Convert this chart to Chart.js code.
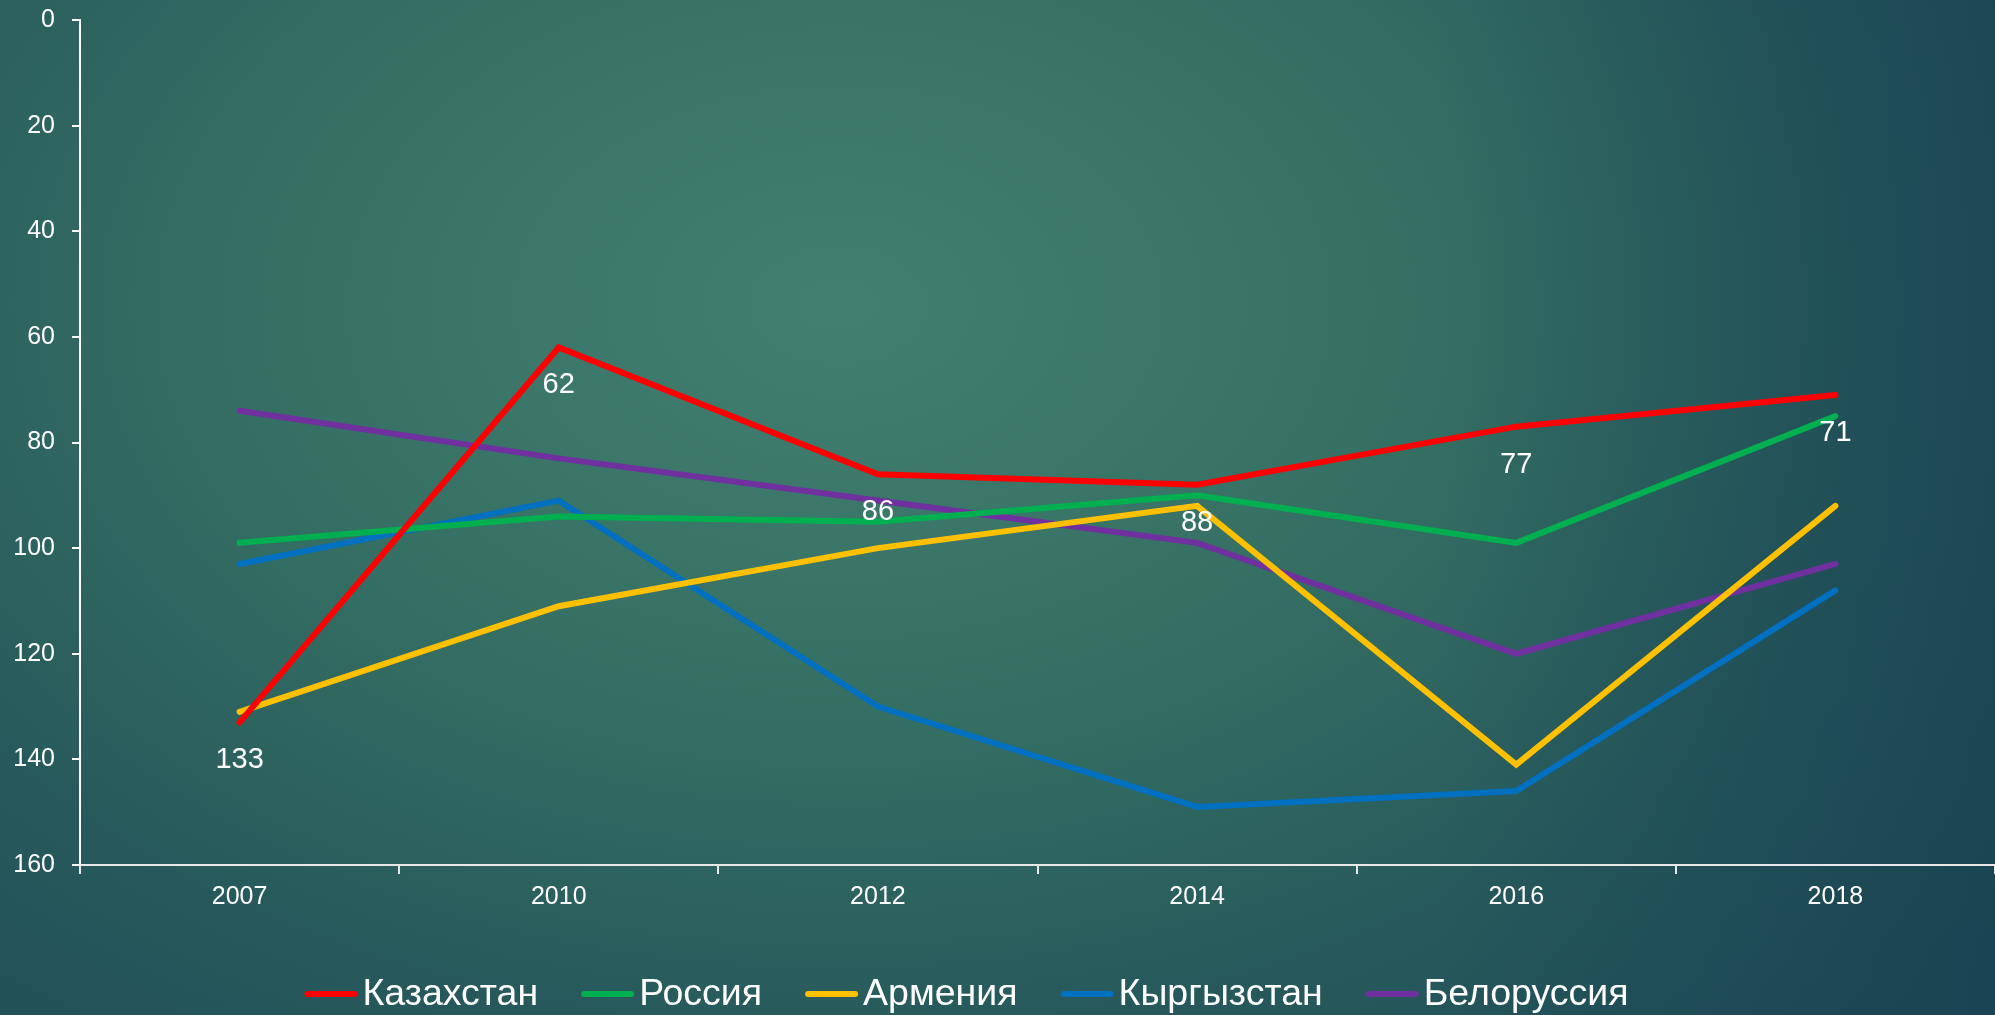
<!DOCTYPE html>
<html><head><meta charset="utf-8">
<script src="https://cdn.jsdelivr.net/npm/chart.js@4/dist/chart.umd.min.js"></script>
<style>
html,body{margin:0;padding:0;width:1995px;height:1015px;overflow:hidden;}
body{background:
  linear-gradient(to right, rgba(22,62,80,0) 72%, rgba(22,62,80,0.55) 100%),
  radial-gradient(ellipse 75% 100% at 42% 30%, #427f71 0%, #356f63 40%, #27595c 72%, #1f4c56 100%);}
#wrap{position:relative;width:1995px;height:1015px;}
</style></head><body>
<div id="wrap"><canvas id="c" width="1995" height="1015"></canvas></div>
<script>
const years = ['2007', '2010', '2012', '2014', '2016', '2018'];
const kazakhstan = [133, 62, 86, 88, 77, 71];
const russia     = [99, 94, 95, 90, 99, 75];
const armenia    = [131, 111, 100, 92, 141, 92];
const kyrgyzstan = [103, 91, 130, 149, 146, 108];
const belarus    = [74, 83, 91, 99, 120, 103];
const seriesNames = ['Казахстан', 'Россия', 'Армения', 'Кыргызстан', 'Белоруссия'];
const seriesColors = ['#FF0000', '#00B050', '#FFC000', '#0070C0', '#7030A0'];
const yMin = 0, yMax = 160, yStep = 20;

const FONT = '"Liberation Sans", Arial, sans-serif';
const seriesData = [kazakhstan, russia, armenia, kyrgyzstan, belarus];

const datasets = seriesData.map((d, i) => ({
  label: seriesNames[i],
  data: d,
  borderColor: seriesColors[i],
  backgroundColor: seriesColors[i],
  borderWidth: 6,
  pointRadius: 0,
  pointHoverRadius: 0,
  tension: 0,
  fill: false,
  borderCapStyle: 'round',
  borderJoinStyle: 'miter'
}));

const valueLabels = {
  id: 'valueLabels',
  afterDatasetsDraw(chart) {
    const ctx = chart.ctx;
    const meta = chart.getDatasetMeta(0);
    ctx.save();
    ctx.fillStyle = '#ffffff';
    ctx.font = '29px ' + FONT;
    ctx.textAlign = 'center';
    ctx.textBaseline = 'middle';
    meta.data.forEach((p, i) => {
      ctx.fillText(String(chart.data.datasets[0].data[i]), p.x, p.y + 38);
    });
    ctx.restore();
  }
};

const bottomLegend = {
  id: 'bottomLegend',
  afterDraw(chart) {
    const ctx = chart.ctx;
    ctx.save();
    ctx.font = '37.5px ' + FONT;
    const lineLen = 53, gapText = 5, gapItem = 43;
    const items = chart.data.datasets.map(ds => ({
      text: ds.label, color: ds.borderColor, w: ctx.measureText(ds.label).width
    }));
    let total = 0;
    items.forEach((it, i) => { total += lineLen + gapText + it.w + (i ? gapItem : 0); });
    let x = (chart.width - total) / 2 - 31;
    const y = 994;
    ctx.textBaseline = 'middle';
    ctx.textAlign = 'left';
    items.forEach(it => {
      ctx.strokeStyle = it.color;
      ctx.lineWidth = 6;
      ctx.lineCap = 'round';
      ctx.beginPath();
      ctx.moveTo(x + 3, y);
      ctx.lineTo(x + lineLen - 3, y);
      ctx.stroke();
      ctx.fillStyle = '#ffffff';
      ctx.fillText(it.text, x + lineLen + gapText, y + 1);
      x += lineLen + gapText + it.w + gapItem;
    });
    ctx.restore();
  }
};

new Chart(document.getElementById('c'), {
  type: 'line',
  data: { labels: years, datasets },
  options: {
    responsive: false,
    animation: false,
    devicePixelRatio: 1,
    layout: { padding: { top: 20, left: 15, right: 0, bottom: 100 } },
    plugins: { legend: { display: false }, tooltip: { enabled: false } },
    scales: {
      x: {
        offset: true,
        afterFit(scale) { scale.height = 50; scale.paddingLeft = 0; scale.paddingRight = 0; },
        grid: { offset: true, drawOnChartArea: false, drawTicks: true, tickLength: 9, color: '#e8e8e8', lineWidth: 2 },
        border: { color: '#e8e8e8', width: 2 },
        ticks: { color: '#ffffff', font: { size: 25, family: FONT }, padding: 8, maxRotation: 0 }
      },
      y: {
        reverse: true,
        min: yMin, max: yMax,
        afterFit(scale) { scale.width = 65; scale.paddingTop = 0; scale.paddingBottom = 0; },
        grid: { drawOnChartArea: false, drawTicks: true, tickLength: 8, color: '#ffffff', lineWidth: 2 },
        border: { color: '#ffffff', width: 2 },
        ticks: { stepSize: yStep, color: '#ffffff', font: { size: 25, family: FONT }, padding: 17 }
      }
    }
  },
  plugins: [valueLabels, bottomLegend]
});
</script>
</body></html>
